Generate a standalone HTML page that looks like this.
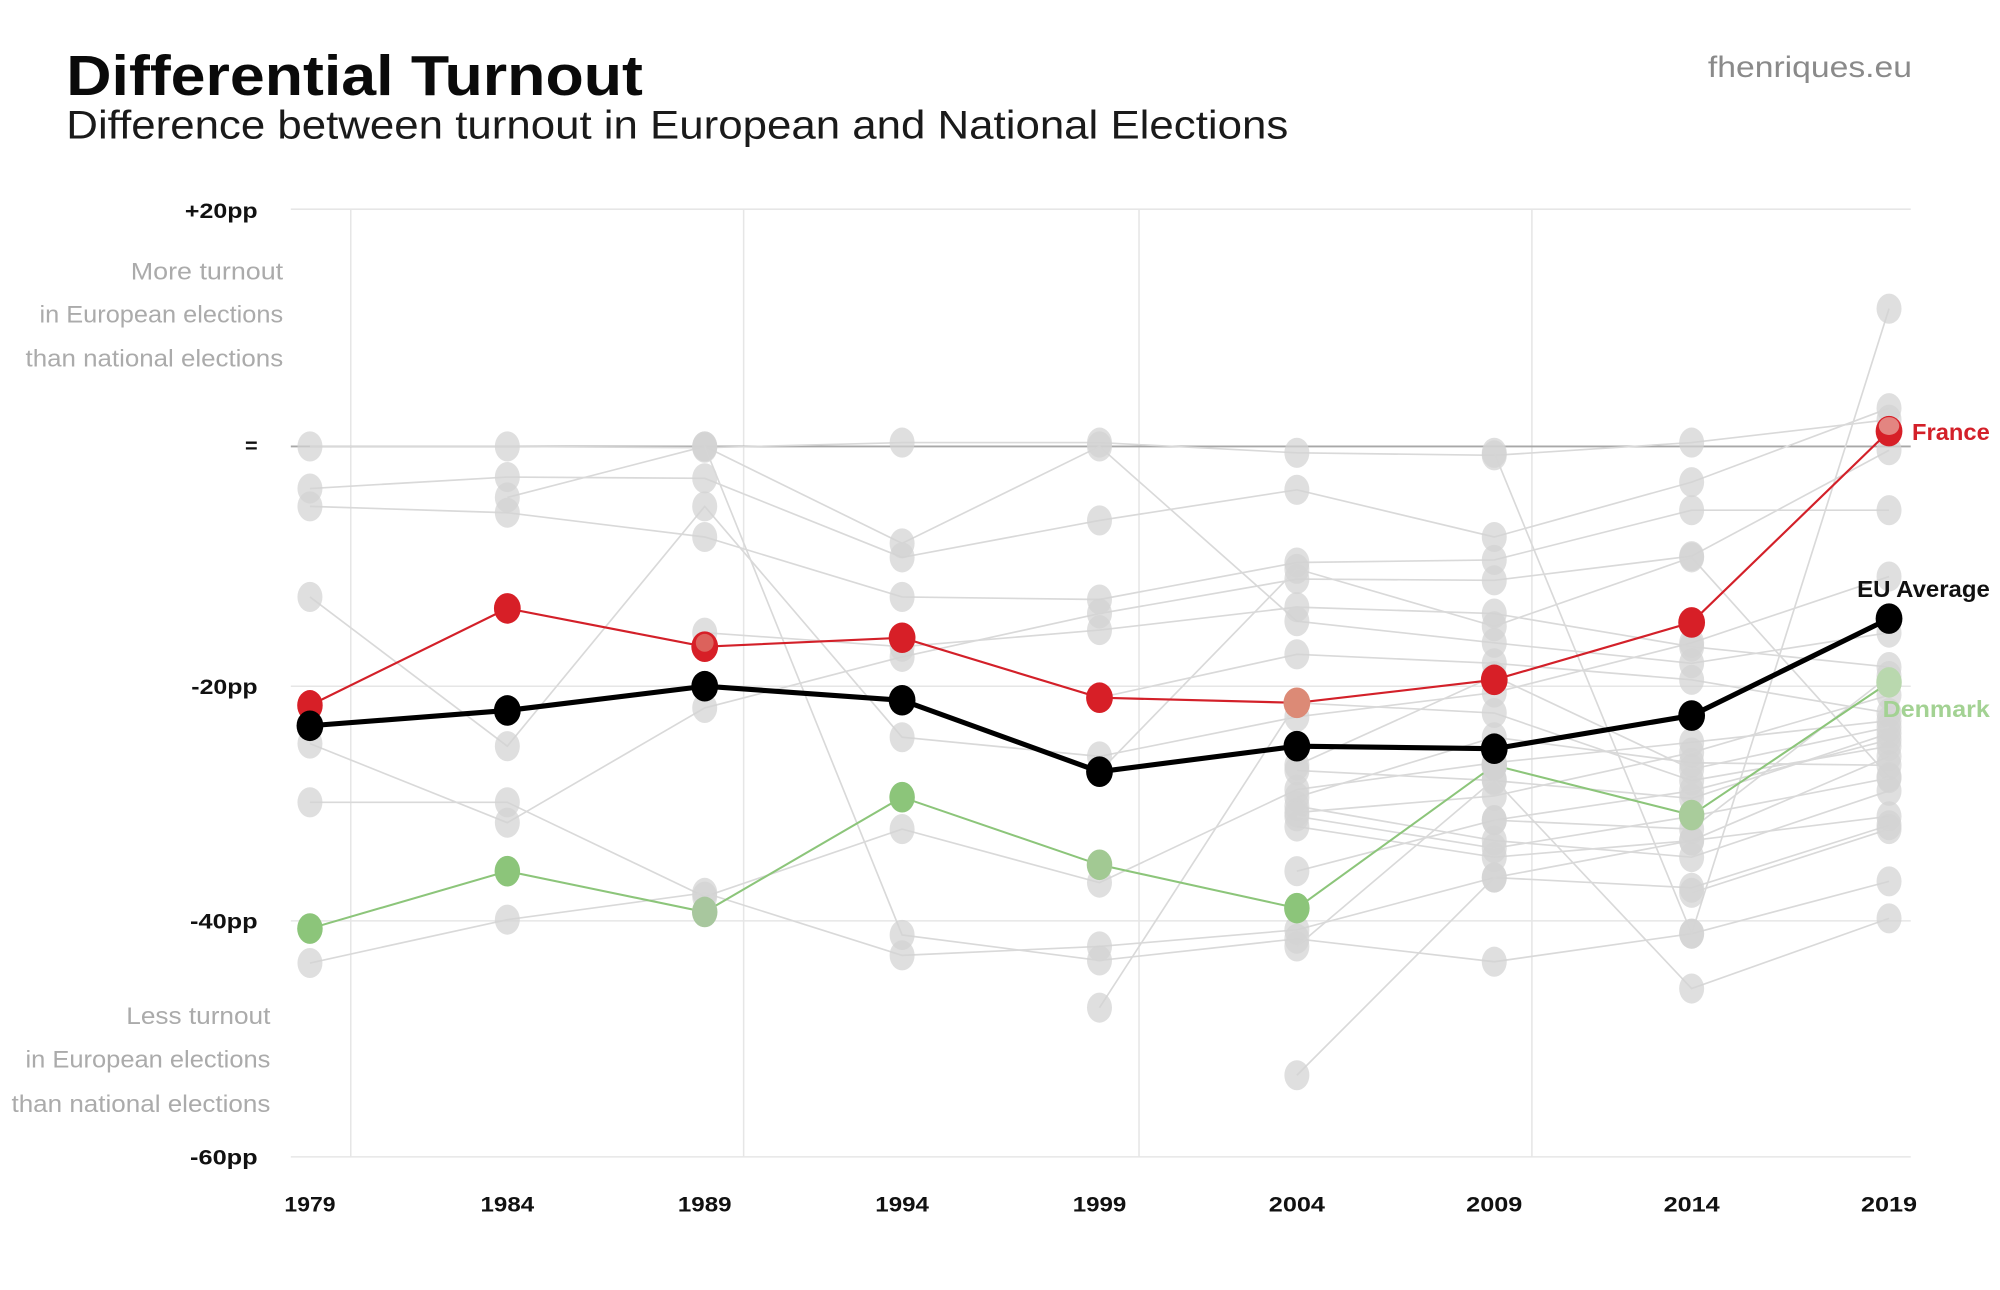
<!DOCTYPE html>
<html>
<head>
<meta charset="utf-8">
<style>
  html, body { margin: 0; padding: 0; background: #ffffff; }
  svg { display: block; }
  text { font-family: "Liberation Sans", "DejaVu Sans", sans-serif; }
</style>
</head>
<body>
<svg width="2000" height="1290" viewBox="0 0 1568 1011.36" preserveAspectRatio="none" xmlns="http://www.w3.org/2000/svg">
  <defs>
    <marker id="gd" markerWidth="24" markerHeight="28" refX="12" refY="14" markerUnits="userSpaceOnUse" overflow="visible">
      <ellipse cx="12" cy="14" rx="9.8" ry="11.8" fill="#d2d2d2" fill-opacity="0.72"/>
    </marker>
  </defs>
  <rect x="0" y="0" width="1568" height="1011.36" fill="#ffffff"/>

  <!-- Titles -->
  <text x="52" y="74.5" font-size="44" font-weight="700" fill="#0a0a0a" textLength="452" lengthAdjust="spacingAndGlyphs">Differential Turnout</text>
  <text x="52" y="108.5" font-size="31" fill="#1a1a1a" textLength="958" lengthAdjust="spacingAndGlyphs">Difference between turnout in European and National Elections</text>
  <text x="1339" y="60.5" font-size="23" fill="#8a8a8a" textLength="160" lengthAdjust="spacingAndGlyphs">fhenriques.eu</text>

  <!-- Grid -->
  <g stroke="#e6e6e6" stroke-width="1.2" fill="none">
    <line x1="228" y1="164" x2="1498" y2="164"/>
    <line x1="228" y1="538" x2="1498" y2="538"/>
    <line x1="228" y1="722" x2="1498" y2="722"/>
    <line x1="228" y1="907" x2="1498" y2="907"/>
    <line x1="275" y1="164" x2="275" y2="907"/>
    <line x1="583" y1="164" x2="583" y2="907"/>
    <line x1="893" y1="164" x2="893" y2="907"/>
    <line x1="1201" y1="164" x2="1201" y2="907"/>
  </g>
  <line x1="228" y1="350" x2="1498" y2="350" stroke="#a8a8a8" stroke-width="1.5"/>

  <!-- Y labels -->
  <g font-size="17" font-weight="700" fill="#111" text-anchor="end">
    <text x="202" y="171" textLength="57" lengthAdjust="spacingAndGlyphs">+20pp</text>
    <text x="202" y="355">=</text>
    <text x="202" y="544" textLength="52" lengthAdjust="spacingAndGlyphs">-20pp</text>
    <text x="202" y="728" textLength="53" lengthAdjust="spacingAndGlyphs">-40pp</text>
    <text x="202" y="913" textLength="53" lengthAdjust="spacingAndGlyphs">-60pp</text>
  </g>

  <!-- Annotations -->
  <g font-size="18.5" fill="#ababab" text-anchor="end">
    <text x="222" y="219" textLength="119.5" lengthAdjust="spacingAndGlyphs">More turnout</text>
    <text x="222" y="253" textLength="191" lengthAdjust="spacingAndGlyphs">in European elections</text>
    <text x="222" y="287.5" textLength="202" lengthAdjust="spacingAndGlyphs">than national elections</text>
    <text x="212" y="803" textLength="113" lengthAdjust="spacingAndGlyphs">Less turnout</text>
    <text x="212" y="837" textLength="192" lengthAdjust="spacingAndGlyphs">in European elections</text>
    <text x="212" y="872" textLength="203" lengthAdjust="spacingAndGlyphs">than national elections</text>
  </g>

  <!-- X labels -->
  <g font-size="17" font-weight="700" fill="#111" text-anchor="middle">
    <text x="243" y="950" textLength="40" lengthAdjust="spacingAndGlyphs">1979</text>
    <text x="397.75" y="950" textLength="42" lengthAdjust="spacingAndGlyphs">1984</text>
    <text x="552.5" y="950" textLength="42" lengthAdjust="spacingAndGlyphs">1989</text>
    <text x="707.25" y="950" textLength="42" lengthAdjust="spacingAndGlyphs">1994</text>
    <text x="862" y="950" textLength="42" lengthAdjust="spacingAndGlyphs">1999</text>
    <text x="1016.75" y="950" textLength="44" lengthAdjust="spacingAndGlyphs">2004</text>
    <text x="1171.5" y="950" textLength="44" lengthAdjust="spacingAndGlyphs">2009</text>
    <text x="1326.25" y="950" textLength="44" lengthAdjust="spacingAndGlyphs">2014</text>
    <text x="1481" y="950" textLength="44" lengthAdjust="spacingAndGlyphs">2019</text>
  </g>

  <!-- Gray country series -->
  <g stroke="#d9d9d9" stroke-width="1.3" fill="none" marker-start="url(#gd)" marker-mid="url(#gd)" marker-end="url(#gd)">
    <polyline points="243,350 397.75,350 552.5,351 707.25,347 862,347 1016.75,355 1171.5,357 1326.25,347 1481,329"/>
    <polyline points="243,383 397.75,374 552.5,375 707.25,437 862,408 1016.75,384 1171.5,421 1326.25,378 1481,320"/>
    <polyline points="243,397 397.75,402 552.5,421 707.25,468 862,470 1016.75,441 1171.5,439 1326.25,400 1481,400"/>
    <polyline points="243,468 397.75,585 552.5,397 707.25,578 862,593 1016.75,562 1171.5,543 1326.25,504 1481,452"/>
    <polyline points="243,583 397.75,645 552.5,555 707.25,515 862,481 1016.75,454 1171.5,455 1326.25,436 1481,353"/>
    <polyline points="243,629 397.75,629 552.5,703 707.25,650 862,692 1016.75,619 1171.5,598 1326.25,582 1481,565"/>
    <polyline points="243,755 397.75,721 552.5,700 707.25,749 862,742 1016.75,729 1171.5,688 1326.25,696 1481,647"/>
    <polyline points="397.75,390 552.5,350 707.25,426 862,350 1016.75,487 1171.5,504 1326.25,520 1481,496"/>
    <polyline points="552.5,496 707.25,507 862,494 1016.75,476 1171.5,481 1326.25,507 1481,523"/>
    <polyline points="552.5,350 707.25,733 862,753 1016.75,736 1171.5,754 1326.25,732 1481,691"/>
    <polyline points="862,790 1016.75,551 1171.5,559 1326.25,612 1481,585"/>
    <polyline points="862,547 1016.75,513 1171.5,520 1326.25,533 1481,559"/>
    <polyline points="862,605 1016.75,446 1171.5,491 1326.25,437 1481,609"/>
    <polyline points="1016.75,843 1171.5,688 1326.25,659 1481,593"/>
    <polyline points="1016.75,604 1171.5,612 1326.25,626 1481,575"/>
    <polyline points="1016.75,625 1171.5,578 1326.25,598 1481,600"/>
    <polyline points="1016.75,632 1171.5,659 1326.25,672 1481,620"/>
    <polyline points="1016.75,637 1171.5,624 1326.25,590 1481,545"/>
    <polyline points="1016.75,648 1171.5,672 1326.25,659 1481,640"/>
    <polyline points="1016.75,683 1171.5,643 1326.25,620 1481,580"/>
    <polyline points="1016.75,742 1171.5,611 1326.25,775 1481,720"/>
    <polyline points="1016.75,600 1171.5,530 1326.25,603 1481,570"/>
    <polyline points="1016.75,640 1171.5,665 1326.25,640 1481,610"/>
    <polyline points="1171.5,643 1326.25,650 1481,530"/>
    <polyline points="1171.5,355 1326.25,732 1481,242"/>
    <polyline points="1326.25,700 1481,650"/>
  </g>

  <!-- Denmark -->
  <polyline points="243,728 397.75,683 552.5,715 707.25,625 862,678 1016.75,712 1171.5,600 1326.25,639 1481,535" fill="none" stroke="#8cc57a" stroke-width="1.6"/>
  <g>
    <ellipse cx="243" cy="728" rx="10" ry="12" fill="#8cc57a"/>
    <ellipse cx="397.75" cy="683" rx="10" ry="12" fill="#8cc57a"/>
    <ellipse cx="552.5" cy="715" rx="10" ry="12" fill="#a8c79e"/>
    <ellipse cx="707.25" cy="625" rx="10" ry="12" fill="#8cc57a"/>
    <ellipse cx="862" cy="678" rx="10" ry="12" fill="#a2c993"/>
    <ellipse cx="1016.75" cy="712" rx="10" ry="12" fill="#8cc57a"/>
    <ellipse cx="1171.5" cy="600" rx="10" ry="12" fill="#d2d2d2"/>
    <ellipse cx="1326.25" cy="639" rx="10" ry="12" fill="#a9cc9b"/>
    <ellipse cx="1481" cy="535" rx="10" ry="12" fill="#b9d8ae"/>
  </g>

  <!-- France -->
  <polyline points="243,553 397.75,477 552.5,507 707.25,500 862,547 1016.75,551 1171.5,533 1326.25,488 1481,338" fill="none" stroke="#d32029" stroke-width="1.7"/>
  <g fill="#d71f27">
    <ellipse cx="243" cy="553" rx="10" ry="12"/>
    <ellipse cx="397.75" cy="477" rx="10.5" ry="12"/>
    <ellipse cx="552.5" cy="507" rx="10.5" ry="12"/>
    <ellipse cx="707.25" cy="500" rx="10.5" ry="12"/>
    <ellipse cx="862" cy="547" rx="10.5" ry="12"/>
    <ellipse cx="1016.75" cy="551" rx="10.5" ry="12" fill="#dc8a76"/>
    <ellipse cx="1171.5" cy="533" rx="10.5" ry="12"/>
    <ellipse cx="1326.25" cy="488" rx="10.5" ry="12"/>
    <ellipse cx="1481" cy="338" rx="10.5" ry="12"/>
  </g>
  <ellipse cx="552.5" cy="504" rx="7" ry="7" fill="#e09080" fill-opacity="0.6"/>
  <ellipse cx="1481" cy="334" rx="8" ry="7" fill="#e8b0a8" fill-opacity="0.7"/>

  <!-- EU Average -->
  <polyline points="243,569 397.75,557 552.5,538 707.25,549 862,605 1016.75,585 1171.5,587 1326.25,561 1481,485" fill="none" stroke="#000" stroke-width="4" stroke-linejoin="round"/>
  <g fill="#000">
    <ellipse cx="243" cy="569" rx="10.5" ry="12"/>
    <ellipse cx="397.75" cy="557" rx="10.5" ry="12"/>
    <ellipse cx="552.5" cy="538" rx="10.5" ry="12"/>
    <ellipse cx="707.25" cy="549" rx="10.5" ry="12"/>
    <ellipse cx="862" cy="605" rx="10.5" ry="12"/>
    <ellipse cx="1016.75" cy="585" rx="10.5" ry="12"/>
    <ellipse cx="1171.5" cy="587" rx="10.5" ry="12"/>
    <ellipse cx="1326.25" cy="561" rx="10.5" ry="12"/>
    <ellipse cx="1481" cy="485" rx="10.5" ry="12"/>
  </g>

  <!-- Series labels -->
  <g font-size="18" font-weight="700">
    <text x="1499" y="345" fill="#d32029" textLength="61" lengthAdjust="spacingAndGlyphs">France</text>
    <text x="1456" y="468" fill="#111" textLength="104" lengthAdjust="spacingAndGlyphs">EU Average</text>
    <text x="1476" y="562" fill="#a3d293" textLength="84" lengthAdjust="spacingAndGlyphs">Denmark</text>
  </g>
</svg>
</body>
</html>
